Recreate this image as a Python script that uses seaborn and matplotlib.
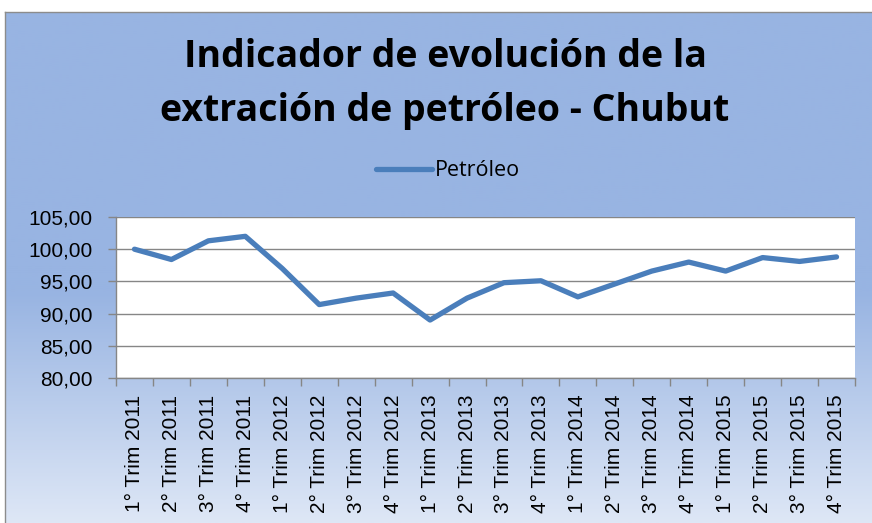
import numpy as np
import pandas as pd
import seaborn as sns
import matplotlib.pyplot as plt
from matplotlib.ticker import FuncFormatter, FixedLocator

# Data
trimestres = ["1° Trim 2011", "2° Trim 2011", "3° Trim 2011", "4° Trim 2011",
              "1° Trim 2012", "2° Trim 2012", "3° Trim 2012", "4° Trim 2012",
              "1° Trim 2013", "2° Trim 2013", "3° Trim 2013", "4° Trim 2013",
              "1° Trim 2014", "2° Trim 2014", "3° Trim 2014", "4° Trim 2014",
              "1° Trim 2015", "2° Trim 2015", "3° Trim 2015", "4° Trim 2015"]
petroleo = [100.0, 98.4, 101.3, 102.0, 97.0, 91.4, 92.4, 93.2, 89.0, 92.4,
            94.8, 95.1, 92.6, 94.6, 96.6, 98.0, 96.6, 98.7, 98.1, 98.8]

df = pd.DataFrame({"Trimestre": trimestres, "Petróleo": petroleo})

sns.set_style("white")
plt.rcParams['font.family'] = ['Open Sans', 'DejaVu Sans']
plt.rcParams['text.color'] = 'black'
plt.rcParams['xtick.color'] = 'black'
plt.rcParams['ytick.color'] = 'black'

fig = plt.figure(figsize=(8.72, 5.23), dpi=100)
fig.patch.set_facecolor("white")

# gradient background panel
bg = fig.add_axes([5 / 872, 0, 1 - 5 / 872, 1 - 12 / 523], zorder=0)
top_col = np.array([152, 180, 226]) / 255
bot_col = np.array([222, 231, 246]) / 255
t = np.linspace(0, 1, 256)
w = np.clip((t - 0.55) / 0.45, 0, 1)[:, None]
grad = (1 - w) * top_col + w * bot_col
bg.imshow(grad[:, None, :], aspect="auto", extent=[0, 1, 0, 1], origin="upper")
bg.set_xticks([])
bg.set_yticks([])
for s in bg.spines.values():
    s.set_color("#8C8C8C")
    s.set_linewidth(1)
bg.spines["right"].set_visible(False)
bg.spines["bottom"].set_visible(False)

ax = fig.add_axes([116 / 872, 1 - 378 / 523, (855 - 116) / 872, (378 - 217) / 523], zorder=1)
ax.set_facecolor("white")

sns.lineplot(data=df, x="Trimestre", y="Petróleo", ax=ax, color="#4A7EBB",
             linewidth=3.8, label="Petróleo", legend=False, sort=False)

ax.set_xlim(-0.5, len(trimestres) - 0.5)
ax.set_ylim(80, 105)
ax.set_yticks(np.arange(80, 106, 5))
ax.yaxis.set_major_formatter(FuncFormatter(lambda v, p: f"{v:.2f}".replace(".", ",")))
ax.grid(axis="y", color="#868686", linewidth=1)
ax.set_axisbelow(True)

tick_font = {"family": "Liberation Sans", "size": 15}
ax.set_xticks(range(len(trimestres)))
ax.set_xticklabels(trimestres, rotation=90, fontdict=tick_font)
for lab in ax.get_yticklabels():
    lab.set_fontfamily("Liberation Sans")
    lab.set_fontsize(15)
ax.xaxis.set_minor_locator(FixedLocator(np.arange(-0.5, len(trimestres), 1)))
ax.tick_params(axis="x", which="major", length=0, pad=12)
ax.tick_params(axis="x", which="minor", length=6, color="#868686", width=1, bottom=True)
ax.tick_params(axis="y", length=6, color="#868686", width=1, left=True, pad=11)

for side in ["top", "right"]:
    ax.spines[side].set_visible(False)
for side in ["left", "bottom"]:
    ax.spines[side].set_color("#868686")
    ax.spines[side].set_linewidth(1)
ax.set_xlabel("")
ax.set_ylabel("")

fig.text(445 / 872, 1 - 84 / 523, "Indicador de evolución de la\nextración de petróleo - Chubut",
         ha="center", va="center", fontsize=27, fontweight="bold", linespacing=1.56)

h, l = ax.get_legend_handles_labels()
fig.legend(h, l, loc="center", bbox_to_anchor=(448 / 872, 1 - 171 / 523), frameon=False,
           fontsize=15.5, handlelength=2.6, handletextpad=0.1)

fig.savefig("out.png", dpi=100, facecolor=fig.get_facecolor())
